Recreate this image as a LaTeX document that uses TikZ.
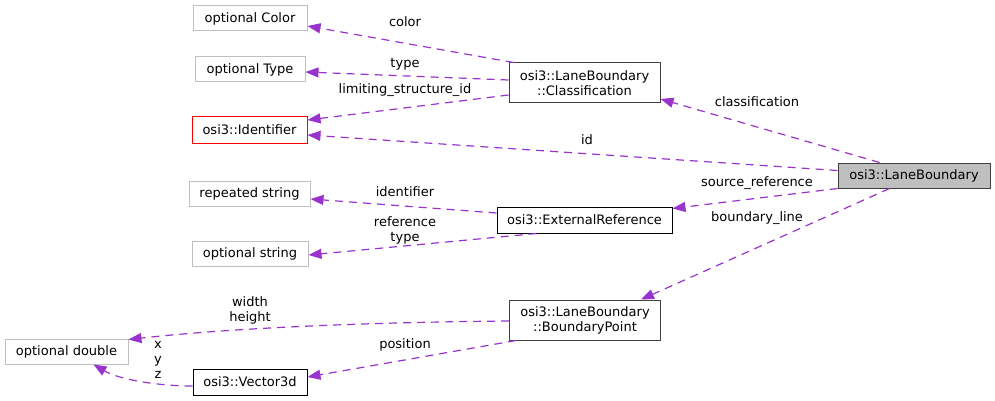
\documentclass[tikz,border=0pt]{standalone}
\usepackage{fontspec}
\setmainfont{DejaVu Sans}
\usetikzlibrary{arrows.meta,calc}
\definecolor{edgec}{HTML}{9A32CD}
\definecolor{boxgray}{HTML}{BFBFBF}
\definecolor{boxdark}{HTML}{404040}
\definecolor{boxred}{HTML}{FF0000}
\begin{document}
\begin{tikzpicture}[x=1pt,y=-1pt,
  box/.style={draw, line width=1pt, fill=white, inner sep=0pt, align=center,
    font=\fontsize{13}{15}\selectfont},
  extbox/.style={box, draw=boxgray},
  redbox/.style={box, draw=boxred},
  darkbox/.style={box, draw=boxdark},
  blackbox/.style={box, draw=black},
  mainbox/.style={box, draw=boxdark, fill=boxgray},
  lbl/.style={inner sep=0pt, align=center, font=\fontsize{13}{15}\selectfont},
  edge/.style={draw=edgec, line width=1.2pt, dash pattern=on 8pt off 6pt,
    -{Triangle[length=13pt,width=10pt]}}
]
\useasboundingbox (0,0) rectangle (995,401);

% nodes
\node[extbox, minimum width=114pt, minimum height=25pt] (color) at (250,18.5) {optional Color};
\node[extbox, minimum width=110pt, minimum height=25pt] (type) at (250,69.5) {optional Type};
\node[redbox, minimum width=115pt, minimum height=26pt] (ident) at (249.5,130) {osi3::Identifier};
\node[darkbox, minimum width=151pt, minimum height=40pt] (cls) at (584.5,83) {osi3::LaneBoundary\\::Classification};
\node[mainbox, minimum width=152pt, minimum height=25pt] (lb) at (914,175.5) {osi3::LaneBoundary};
\node[extbox, minimum width=121pt, minimum height=25pt] (rs) at (249.5,193.5) {repeated string};
\node[blackbox, minimum width=175pt, minimum height=26pt] (ext) at (584.5,220) {osi3::ExternalReference};
\node[extbox, minimum width=116pt, minimum height=25pt] (os) at (250,253.5) {optional string};
\node[darkbox, minimum width=151pt, minimum height=40pt] (bp) at (585,320) {osi3::LaneBoundary\\::BoundaryPoint};
\node[extbox, minimum width=123pt, minimum height=25pt] (od) at (66.5,351.5) {optional double};
\node[blackbox, minimum width=114pt, minimum height=26pt] (v3d) at (250,382) {osi3::Vector3d};

% labels
\node[lbl] (lcolor) at (405,22) {color};
\node[lbl] (ltype) at (405,64) {type};
\node[lbl] (llim) at (405,90) {limiting\_structure\_id};
\node[lbl] (lid) at (587,140) {id};
\node[lbl] (lcls) at (757,102) {classification};
\node[lbl] (lsrc) at (757,183) {source\_reference};
\node[lbl] (lbl) at (757,218) {boundary\_line};
\node[lbl] (lident) at (405,192) {identifier};
\node[lbl] (lreft) at (405,230) {reference\\type};
\node[lbl] (lwh) at (250,310) {width\\height};
\node[lbl] (lpos) at (405,345) {position};
\node[lbl] (lxyz) at (158,360) {x\\y\\z};

% edges
\draw[edge] ($(cls.north west)+(5,0)$) -- ($(color.east)+(0,7.5)$);
\draw[edge] ($(cls.west)+(0,-3)$) -- ($(type.east)+(0,2.5)$);
\draw[edge] ($(cls.west)+(0,12)$) -- ($(ident.east)+(0,-10)$);
\draw[edge] ($(lb.west)+(0,-5)$) -- ($(ident.east)+(0,5)$);
\draw[edge] ($(lb.north west)+(42,0)$) -- ($(cls.east)+(0,16)$);
\draw[edge] (lb.south west) -- ($(ext.north east)+(0,2)$);
\draw[edge] ($(lb.south west)+(52,0)$) -- ($(bp.north)+(56,0)$);
\draw[edge] ($(ext.west)+(0,-7)$) -- ($(rs.east)+(0,5.5)$);
\draw[edge] ($(ext.south west)+(40,0)$) -- ($(os.east)+(0,1.5)$);
\draw[edge] ($(bp.west)+(0,1)$) .. controls (400,322) and (250,326) .. ($(od.north east)+(0,1)$);
\draw[edge] ($(bp.south west)+(7,0)$) -- ($(v3d.east)+(0,-5)$);
\draw[edge] ($(v3d.west)+(0,4)$) .. controls (160,386) and (120,380) .. ($(od.south)+(27,0)$);
\end{tikzpicture}
\end{document}
